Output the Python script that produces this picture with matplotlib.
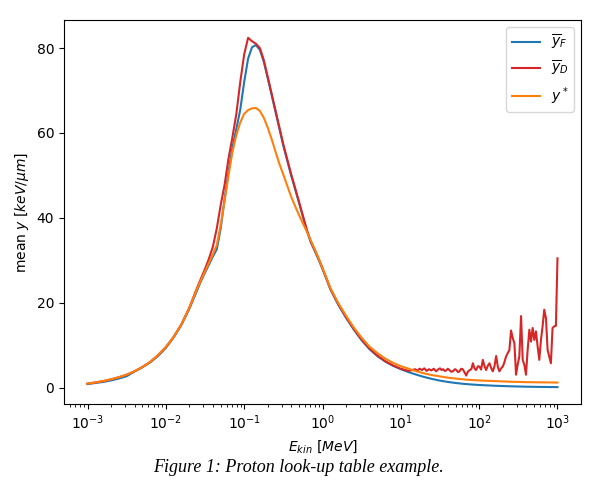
import numpy as np
import matplotlib
matplotlib.use("Agg")
import matplotlib.pyplot as plt

# Data ########################################################################

# log10 of kinetic energy [MeV] for the smooth curves
log_e = [-3.0, -2.9, -2.8, -2.7, -2.6, -2.5, -2.4, -2.3, -2.2, -2.1, -2.0,
         -1.9, -1.8, -1.7, -1.6,
         -1.55, -1.5, -1.45, -1.4, -1.35, -1.3, -1.25, -1.2, -1.15, -1.1,
         -1.05, -1.0, -0.95, -0.9, -0.85, -0.8, -0.75, -0.7, -0.65, -0.6,
         -0.55, -0.5, -0.45, -0.4, -0.35, -0.3, -0.25, -0.2, -0.15, -0.1,
         -0.05, 0.0,
         0.1, 0.2, 0.3, 0.4, 0.5, 0.6, 0.7, 0.8, 0.9, 1.0,
         1.1, 1.2, 1.3, 1.4, 1.5, 1.6, 1.7, 1.8, 1.9, 2.0,
         2.2, 2.4, 2.6, 2.8, 3.0]

y_F = [0.9, 1.15, 1.4, 1.75, 2.2, 2.75, 3.85, 4.85, 6.0, 7.5, 9.4,
       11.9, 14.9, 18.6, 23.0,
       25.2, 27.1, 29.0, 30.9, 32.6, 37.5, 44.5, 50.8, 56.5, 61.0,
       65.5, 72.0, 77.5, 80.2, 80.7, 79.6, 76.8, 73.0, 69.0, 65.0,
       61.0, 57.0, 53.5, 50.0, 46.8, 43.6, 40.3, 37.0, 34.3, 32.3,
       30.2, 28.0,
       23.2, 19.6, 16.5, 13.7, 11.2, 9.1, 7.5, 6.2, 5.2, 4.4,
       3.7, 3.1, 2.55, 2.1, 1.7, 1.4, 1.15, 0.95, 0.8, 0.68,
       0.5, 0.37, 0.28, 0.22, 0.18]

y_star = [1.0, 1.27, 1.6, 2.0, 2.5, 3.1, 3.9, 4.9, 6.1, 7.7, 9.6,
          12.0, 15.0, 18.8, 23.4,
          25.4, 27.4, 29.4, 31.4, 33.6, 38.3, 44.0, 50.0, 55.5, 59.5,
          62.5, 64.5, 65.4, 65.8, 65.9, 65.2, 63.6, 61.3, 58.6, 55.6,
          52.7, 50.2, 47.6, 45.0, 42.8, 40.7, 38.7, 36.8, 34.7, 32.7,
          30.5, 28.2,
          23.5, 20.0, 17.0, 14.2, 11.8, 9.7, 8.2, 6.9, 5.9, 5.1,
          4.5, 3.9, 3.4, 3.0, 2.7, 2.4, 2.2, 2.0, 1.85, 1.75,
          1.6, 1.45, 1.35, 1.3, 1.25]

# dose mean on the smooth grid, up to 10^1.1 MeV
y_D_low = [1.0, 1.27, 1.6, 2.0, 2.5, 3.1, 3.9, 4.9, 6.1, 7.7, 9.6,
           12.0, 15.0, 18.9, 23.6,
           25.8, 28.0, 30.4, 33.2, 37.5, 43.0, 47.8, 54.0, 59.0, 64.5,
           72.0, 78.5, 82.4, 81.6, 81.0, 80.0, 77.2, 73.3, 69.3, 65.3,
           61.3, 57.3, 53.8, 50.3, 47.1, 43.8, 40.5, 37.2, 34.5, 32.5,
           30.4, 28.2,
           23.4, 19.8, 16.7, 13.9, 11.4, 9.3, 7.6, 6.3, 5.3, 4.5,
           4.0]

# noisy high energy tail of the dose mean
log_e_tail = [1.15, 1.18, 1.21, 1.24, 1.27, 1.30, 1.33, 1.36, 1.39, 1.42, 1.45, 1.48,
              1.50, 1.52, 1.54, 1.56, 1.58, 1.60, 1.62,
              1.645, 1.665, 1.69, 1.71, 1.73, 1.75, 1.77, 1.79,
              1.815, 1.835, 1.855, 1.88, 1.90, 1.92, 1.94, 1.96,
              1.985, 2.005, 2.025, 2.047, 2.07, 2.089, 2.11, 2.132, 2.155, 2.174, 2.195, 2.217,
              2.24, 2.259, 2.28, 2.301, 2.32, 2.344, 2.365, 2.386, 2.407, 2.429, 2.45, 2.471, 2.492,
              2.513, 2.535, 2.556, 2.577, 2.598, 2.619, 2.641, 2.662, 2.683, 2.704, 2.725, 2.747,
              2.768, 2.789, 2.81, 2.831, 2.853, 2.874, 2.895, 2.916, 2.937, 2.959, 2.98, 3.0]
y_D_tail = [4.2, 4.4, 4.1, 4.5, 4.2, 4.6, 4.0, 4.4, 4.1, 4.5, 3.9, 4.4,
            4.6, 4.2, 4.4, 4.0, 4.1, 4.5, 4.2,
            3.8, 3.9, 4.4, 4.2, 3.7, 3.9, 4.5, 4.4,
            3.6, 2.9, 3.8, 4.2, 4.4, 5.8, 4.6, 4.2,
            5.1, 5.0, 4.3, 6.6, 5.0, 4.2, 5.2, 5.8, 4.6, 3.9, 5.0, 7.5,
            4.8, 3.9, 4.6, 5.0, 5.9, 7.4, 8.2, 8.9, 13.5, 11.7, 10.5, 3.1, 5.5,
            7.4, 16.9, 6.6, 5.4, 3.1, 8.9, 13.7, 10.9, 14.1, 11.3, 13.3, 9.7,
            6.6, 11.3, 14.5, 18.4, 16.4, 8.9, 7.4, 5.8, 14.1, 14.5, 14.6, 30.5]

labels = [r'$\overline{y}_F$', r'$\overline{y}_D$', r'$y^*$']
x_ticks = [1e-3, 1e-2, 1e-1, 1e0, 1e1, 1e2, 1e3]
y_ticks = [0, 20, 40, 60, 80]

# Plot ########################################################################

energy = 10.0 ** np.array(log_e)
energy_D = 10.0 ** np.concatenate([log_e[:len(y_D_low)], log_e_tail])
y_D = np.concatenate([y_D_low, y_D_tail])

fig = plt.figure(figsize=(6.0, 4.95), dpi=100)
ax = fig.add_axes([0.1067, 0.1838, 0.8616, 0.7758])

ax.plot(energy, y_F, color='tab:blue', label=labels[0])
ax.plot(energy_D, y_D, color='tab:red', label=labels[1])
ax.plot(energy, y_star, color='tab:orange', label=labels[2])

ax.set_xscale('log')
ax.set_xlim(10 ** -3.3, 10 ** 3.3)
ax.set_xticks(x_ticks)
ax.set_ylim(-3.8, 86.6)
ax.set_yticks(y_ticks)
ax.set_xlabel(r'$E_{kin}\ [MeV]$')
ax.set_ylabel(r'mean $y$ $[keV/\mu m]$')
ax.legend(loc='upper right')

fig.text(0.497, 0.056, 'Figure 1: Proton look-up table example.',
         ha='center', va='center', fontsize=13, fontstyle='italic',
         family='Liberation Serif')

fig.savefig('out.png', dpi=100)
